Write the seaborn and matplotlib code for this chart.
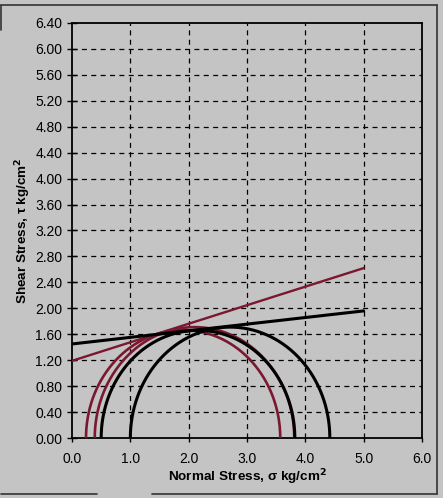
import numpy as np
import pandas as pd
import matplotlib
matplotlib.use("Agg")
import matplotlib.pyplot as plt
from matplotlib.lines import Line2D
import seaborn as sns

# Mohr circles: minor and major principal stresses (kg/cm^2)
sigma3_black = [1.00, 0.50]
sigma1_black = [4.42, 3.82]
sigma3_red = [0.24, 0.39]
sigma1_red = [3.57, 3.81]

# Failure envelopes: cohesion at sigma=0 and shear stress at sigma=5
env_sigma = [0.0, 5.0]
env_black = [1.45, 1.96]
env_red = [1.19, 2.62]

x_ticks = [0.0, 1.0, 2.0, 3.0, 4.0, 5.0, 6.0]
y_ticks = [0.00, 0.40, 0.80, 1.20, 1.60, 2.00, 2.40, 2.80, 3.20, 3.60,
           4.00, 4.40, 4.80, 5.20, 5.60, 6.00, 6.40]

BG = "#c4c4c4"
RED = "#7a1830"

sns.set_theme(style="white")
plt.rcParams["font.family"] = ["Liberation Sans", "DejaVu Sans"]

fig = plt.figure(figsize=(4.43, 4.98), dpi=100, facecolor=BG)
ax = fig.add_axes([72 / 443, 1 - 438 / 498, 350 / 443, 415 / 498])
ax.set_facecolor(BG)


def semicircle(s3, s1):
    c = (s3 + s1) / 2.0
    r = (s1 - s3) / 2.0
    t = np.linspace(np.pi, 0, 200)
    return pd.DataFrame({"sigma": c + r * np.cos(t), "tau": r * np.sin(t)})


for s3, s1 in zip(sigma3_red, sigma1_red):
    sns.lineplot(data=semicircle(s3, s1), x="sigma", y="tau", sort=False,
                 estimator=None, color=RED, lw=1.9, ax=ax, zorder=3)
for s3, s1 in zip(sigma3_black, sigma1_black):
    sns.lineplot(data=semicircle(s3, s1), x="sigma", y="tau", sort=False,
                 estimator=None, color="black", lw=2.2, ax=ax, zorder=4)

sns.lineplot(x=env_sigma, y=env_red, color=RED, lw=1.7, ax=ax, zorder=3)
sns.lineplot(x=env_sigma, y=env_black, color="black", lw=2.2, ax=ax, zorder=4)

ax.set_xlim(0, 6)
ax.set_ylim(0, 6.4)
ax.set_xticks(x_ticks)
ax.set_xticklabels([f"{v:.1f}" for v in x_ticks])
ax.set_yticks(y_ticks)
ax.set_yticklabels([f"{v:.2f}" for v in y_ticks])

for v in x_ticks[1:-1]:
    ax.axvline(v, color="black", lw=0.9, ls=(0, (4, 3.5)), zorder=1)
for v in y_ticks[1:-1]:
    ax.axhline(v, color="black", lw=0.9, ls=(0, (4, 3.5)), zorder=1)

for s in ax.spines.values():
    s.set_color("black")
    s.set_linewidth(1.3)

ax.tick_params(axis="y", direction="inout", length=7, width=1, color="black",
               labelsize=10, pad=3.6, labelcolor="black", left=True)
ax.tick_params(axis="x", direction="out", length=3, width=1, color="black",
               labelsize=10, pad=7, labelcolor="black", bottom=True)

ax.set_xlabel("Normal Stress, σ kg/cm$^\\mathbf{2}$", fontsize=9.7,
              fontweight="bold", labelpad=1, color="black")
ax.set_ylabel("Shear Stress, τ kg/cm$^\\mathbf{2}$", fontsize=9.7,
              fontweight="bold", labelpad=1.5, color="black")

# outer frame around the chart
frame = dict(color="#333333", lw=1.2, transform=fig.transFigure)
W, H = 443.0, 498.0
fig.add_artist(Line2D([1 / W, 437 / W], [1 - 5 / H, 1 - 5 / H], **frame))
fig.add_artist(Line2D([437 / W, 437 / W], [1 - 5 / H, 1 - 494 / H], **frame))
fig.add_artist(Line2D([152 / W, 437 / W], [1 - 494 / H, 1 - 494 / H], **frame))
fig.add_artist(Line2D([1 / W, 97 / W], [1 - 494 / H, 1 - 494 / H], **frame))
fig.add_artist(Line2D([1 / W, 1 / W], [1 - 5 / H, 1 - 30 / H], **frame))

fig.savefig("out.png", dpi=100, facecolor=BG)
